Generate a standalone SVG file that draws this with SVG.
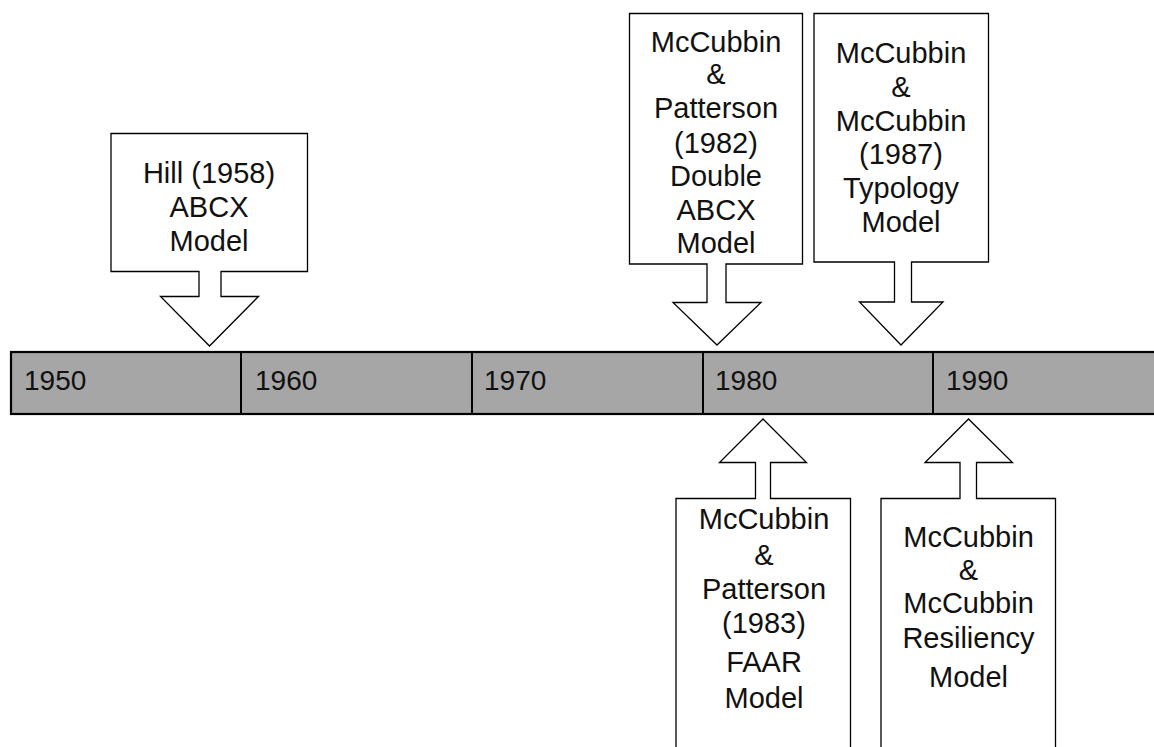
<svg xmlns="http://www.w3.org/2000/svg" width="1154" height="747" viewBox="0 0 1154 747">
<style>
.callout{fill:#fff;stroke:#000;stroke-width:1.3;stroke-linejoin:miter}
.lbl{font-family:"Liberation Sans",Arial,sans-serif;font-size:29px;fill:#111;text-anchor:middle}
.yr{font-family:"Liberation Sans",Arial,sans-serif;font-size:28px;fill:#111}
.bar{fill:#a6a6a6;stroke:#000;stroke-width:2.2}
.div{stroke:#000;stroke-width:2}
</style>
<rect width="1154" height="747" fill="#fff"/>
<g id="timeline">
<rect class="bar" x="11" y="352" width="1160" height="62"/>
<line class="div" x1="241" y1="352" x2="241" y2="414"/>
<line class="div" x1="472" y1="352" x2="472" y2="414"/>
<line class="div" x1="703" y1="352" x2="703" y2="414"/>
<line class="div" x1="933" y1="352" x2="933" y2="414"/>
<text class="yr" x="24" y="390">1950</text>
<text class="yr" x="255" y="390">1960</text>
<text class="yr" x="484" y="390">1970</text>
<text class="yr" x="715" y="390">1980</text>
<text class="yr" x="946" y="390">1990</text>
</g>
<g id="hill1958">
<path class="callout" d="M111,133.5 H307.5 V271.5 H221 V296.5 H258.5 L209.5,346 L160.5,296.5 H199 V271.5 H111 Z"/>
<text class="lbl" x="209" y="183.3">Hill (1958)</text>
<text class="lbl" x="209" y="217.3">ABCX</text>
<text class="lbl" x="209" y="250.5">Model</text>
</g>
<g id="mccubbin1982">
<path class="callout" d="M629.5,13.5 H802.5 V264 H726 V302.5 H761 L717,345 L673,302.5 H707 V264 H629.5 Z"/>
<text class="lbl" x="716" y="51.7">McCubbin</text>
<text class="lbl" x="716" y="84">&amp;</text>
<text class="lbl" x="716" y="118.3">Patterson</text>
<text class="lbl" x="716" y="152.5">(1982)</text>
<text class="lbl" x="716" y="186.1">Double</text>
<text class="lbl" x="716" y="219.7">ABCX</text>
<text class="lbl" x="716" y="253.3">Model</text>
</g>
<g id="mccubbin1987">
<path class="callout" d="M814,13.5 H988.5 V262 H911.5 V302 H943 L901,345 L859.5,302 H894.5 V262 H814 Z"/>
<text class="lbl" x="901" y="63.3">McCubbin</text>
<text class="lbl" x="901" y="97">&amp;</text>
<text class="lbl" x="901" y="130.7">McCubbin</text>
<text class="lbl" x="901" y="164.4">(1987)</text>
<text class="lbl" x="901" y="198">Typology</text>
<text class="lbl" x="901" y="231.7">Model</text>
</g>
<g id="mccubbin1983">
<path class="callout" d="M676,760 V498.5 H755.5 V462.5 H719.5 L763,419 L806.5,462.5 H770.5 V498.5 H850.5 V760"/>
<text class="lbl" x="764" y="529.3">McCubbin</text>
<text class="lbl" x="764" y="565">&amp;</text>
<text class="lbl" x="764" y="599">Patterson</text>
<text class="lbl" x="764" y="633.3">(1983)</text>
<text class="lbl" x="764" y="671.7">FAAR</text>
<text class="lbl" x="764" y="708.3">Model</text>
</g>
<g id="resiliency">
<path class="callout" d="M881,760 V498.5 H960 V462.5 H925 L968.5,419 L1012.5,462.5 H976.5 V498.5 H1055.5 V760"/>
<text class="lbl" x="968.5" y="546.7">McCubbin</text>
<text class="lbl" x="968.5" y="580">&amp;</text>
<text class="lbl" x="968.5" y="613.3">McCubbin</text>
<text class="lbl" x="968.5" y="648.3">Resiliency</text>
<text class="lbl" x="968.5" y="686.7">Model</text>
</g>
<g id="connectors"></g>
</svg>
